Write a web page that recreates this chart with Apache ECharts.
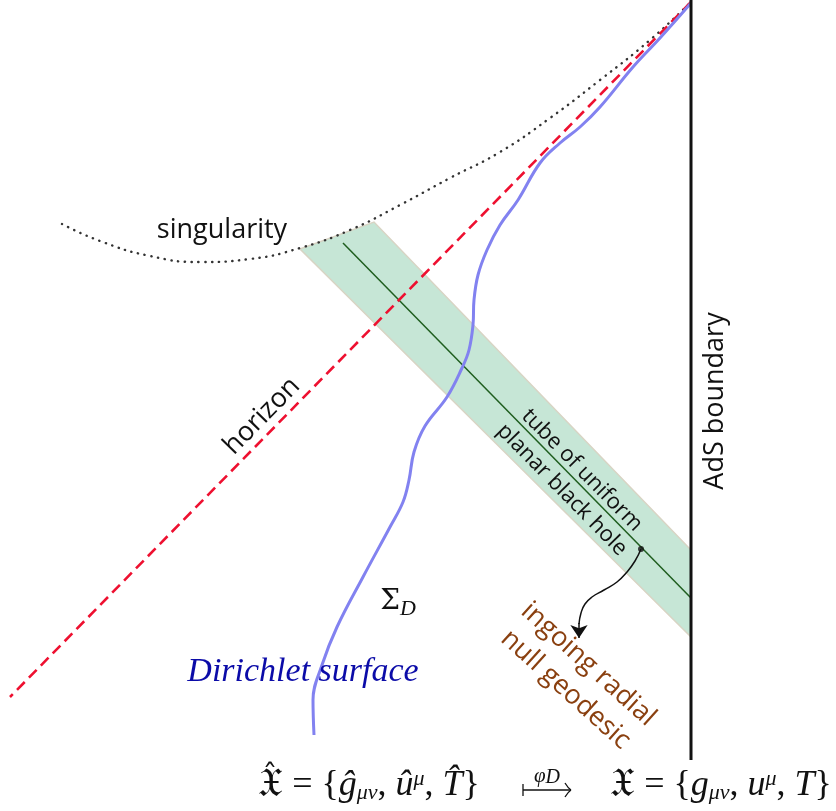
<!DOCTYPE html>
<html><head><meta charset="utf-8">
<script src="https://cdn.jsdelivr.net/npm/echarts@6/dist/echarts.min.js"></script>
<style>html,body{margin:0;padding:0;background:#fff}#c{width:836px;height:811px}</style>
</head><body><div id="c"></div>
<script>
// diagram data in the plot's own coordinate frame (x right, y down)
const boundaryLine = [[691, 0], [691, 760]];
const horizonLine = [[691, 2], [10, 697]];
const singularityCurve = [[62,224],[100,241],[150,256],[200,262],[250,259],[300,248],[350,230],[400,205],[450,178],[500,152],[550,118],[600,80],[650,40],[691,2]];
const dirichletCurve = [[691,3],[660,38],[633,67],[600,107],[580,127],[560,143],[540,163],[518,200],[500,225],[487,250],[478,275],[474,300],[473,325],[469,350],[462,368],[447,397],[425,426],[414,452],[409,480],[403,502],[390,527],[363,577],[337,627],[322,665],[313,700],[314,735]];
const tubeCorners = [[300,249],[374,222],[691,550],[691,637]];
const tubeAxis = [[343,243],[691,598]];
const geodesicStart = [[641,549]];
const geodesicCurve = [[641,549],[635,561],[627,572],[617,582],[604,590],[592,597],[585,604],[581,613],[579,624]];
const geodesicHead = [[579,623],[579,638]];
const mapsToArrow = [[523,790],[571,790]];
const labelTexts = ['singularity', 'horizon', 'AdS boundary', 'tube of uniform\nplanar black hole', '{s|Σ}{sub|D}', 'Dirichlet surface', 'ingoing radial\nnull geodesic'];
const labelAnchors = [[222,230],[262,416],[715,401],[572,480],[398,602],[303,672],[577,677]];
const formulaTexts = ['{x|𝔛} = {{i|ĝ}{sub|μν}, {i|û}{sup|μ}, {i|T̂}}', 'ˆ', '{f|φ}{d|D}', '{x|𝔛} = {{i|g}{sub|μν}, {i|u}{sup|μ}, {i|T}}'];
const formulaAnchors = [[369,786],[270,777],[547,776],[721,786]];

const labelStyles = [
  {font: '27px "Open Sans"', fill: '#111', rot: 0},
  {font: '27px "Open Sans"', fill: '#111', rot: 45.6},
  {font: '27px "Open Sans"', fill: '#111', rot: 90},
  {font: '22px "Open Sans"', fill: '#111', rot: -45.5, lh: 28},
  {font: 'italic 22px "DejaVu Serif"', fill: '#111', rot: 0},
  {font: 'italic 34px "Liberation Serif"', fill: '#0b0ba8', rot: 0},
  {font: '27px "Open Sans"', fill: '#8a4010', rot: -42, lh: 34}
];
const formulaStyles = [
  {font: '36px "Liberation Serif"'},
  {font: '30px "DejaVu Serif"'},
  {font: '20px "Liberation Serif"'},
  {font: '36px "Liberation Serif"'}
];
const mathRich = {
  s: {font: '28px "DejaVu Serif"', fill: '#111'},
  x: {font: '40px "DejaVu Serif"', fill: '#111'},
  i: {font: 'italic 36px "Liberation Serif"', fill: '#111'},
  sub: {font: 'italic 22px "Liberation Serif"', fill: '#111', padding: [15, 0, 0, 0]},
  sup: {font: 'italic 22px "Liberation Serif"', fill: '#111', padding: [0, 0, 13, 0]},
  f: {font: 'italic 21px "Liberation Serif"', fill: '#111'},
  d: {font: 'italic 20px "Liberation Serif"', fill: '#111', padding: [4, 0, 0, 0]}
};

const chart = echarts.init(document.getElementById('c'), null, {renderer: 'canvas'});
function textSeries(texts, anchors, styleFor, z) {
  return {
    type: 'custom', coordinateSystem: 'cartesian2d', z: z, silent: true,
    data: anchors.map((a, i) => [a[0], a[1], i]),
    renderItem: function (params, api) {
      const i = api.value(2);
      const p = api.coord([api.value(0), api.value(1)]);
      const st = styleFor(i);
      return {
        type: 'text', x: p[0], y: p[1], rotation: (st.rot || 0) * Math.PI / 180,
        style: {text: texts[i], font: st.font, fill: st.fill || '#111', align: 'center', verticalAlign: 'middle',
                lineHeight: st.lh, rich: mathRich}
      };
    }
  };
}
chart.setOption({
  animation: false,
  grid: {left: 0, right: 0, top: 0, bottom: 0},
  xAxis: {type: 'value', min: 0, max: 836, show: false},
  yAxis: {type: 'value', min: 0, max: 811, inverse: true, show: false},
  series: [
    {
      type: 'custom', coordinateSystem: 'cartesian2d', z: 1, silent: true,
      data: [0],
      renderItem: function (params, api) {
        const pts = tubeCorners.map(c => api.coord(c));
        return {type: 'polygon', shape: {points: pts},
          style: {fill: '#c6e6d6', stroke: '#d8d4c4', lineWidth: 1.5}};
      }
    },
    {type: 'line', data: tubeAxis, symbol: 'none', z: 2, lineStyle: {color: '#1f5e1f', width: 1.5}},
    {type: 'line', data: singularityCurve, smooth: 0.5, symbol: 'none', z: 3,
      lineStyle: {color: '#333', width: 2.4, type: [0.3, 6.5], cap: 'round'}},
    {type: 'line', data: horizonLine, symbol: 'none', z: 4,
      lineStyle: {color: '#ee1030', width: 2.6, type: [11, 6]}},
    {type: 'line', data: dirichletCurve, smooth: 0.4, symbol: 'none', z: 5,
      lineStyle: {color: '#8282f0', width: 3}},
    {type: 'line', data: boundaryLine, symbol: 'none', z: 6, lineStyle: {color: '#111', width: 3}},
    {type: 'scatter', data: geodesicStart, symbolSize: 6, z: 7, itemStyle: {color: '#111'}},
    {type: 'line', data: geodesicCurve, smooth: 0.5, symbol: 'none', z: 7,
      lineStyle: {color: '#111', width: 1.5}},
    {type: 'lines', coordinateSystem: 'cartesian2d', z: 7,
      symbol: ['none', 'arrow'], symbolSize: 13,
      data: [{coords: geodesicHead}],
      lineStyle: {color: '#111', width: 1.5, opacity: 1, curveness: 0}},
    {
      type: 'custom', coordinateSystem: 'cartesian2d', z: 9, silent: true,
      data: [0],
      renderItem: function (params, api) {
        const a = api.coord(mapsToArrow[0]);
        const b = api.coord(mapsToArrow[1]);
        const st = {stroke: '#111', lineWidth: 1.3, fill: null};
        return {type: 'group', children: [
          {type: 'line', shape: {x1: a[0], y1: a[1], x2: b[0], y2: b[1]}, style: st},
          {type: 'line', shape: {x1: a[0], y1: a[1] - 6, x2: a[0], y2: a[1] + 6}, style: st},
          {type: 'bezierCurve', shape: {x1: b[0] - 6, y1: b[1] - 7, x2: b[0], y2: b[1], cpx1: b[0] - 3, cpy1: b[1] - 2}, style: st},
          {type: 'bezierCurve', shape: {x1: b[0] - 6, y1: b[1] + 7, x2: b[0], y2: b[1], cpx1: b[0] - 3, cpy1: b[1] + 2}, style: st}
        ]};
      }
    },
    textSeries(labelTexts, labelAnchors, i => labelStyles[i], 10),
    textSeries(formulaTexts, formulaAnchors, i => formulaStyles[i], 10)
  ]
});
</script></body></html>
